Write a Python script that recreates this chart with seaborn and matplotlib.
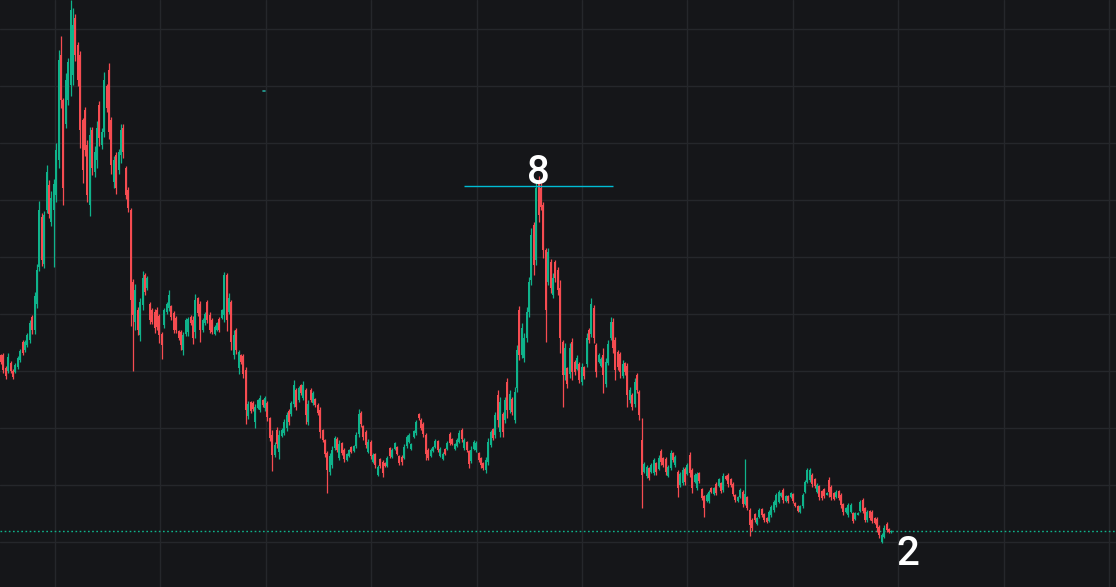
import numpy as np
import pandas as pd
import matplotlib
matplotlib.use("Agg")
import matplotlib.pyplot as plt
import seaborn as sns

# OHLC values (price units, one candle per session)
opens = [
    245, 245, 232, 229, 237, 229, 228, 233, 240, 258, 250, 255, 260, 283, 270, 296, 333, 383, 336, 390,
    415, 378, 390, 405, 440, 545, 500, 476, 500, 515, 525, 582, 555, 545, 480, 490, 455, 395, 470, 428,
    440, 495, 455, 468, 514, 530, 480, 418, 445, 430, 445, 472, 432, 410, 390, 318, 278, 290, 265, 295,
    325, 312, 296, 290, 288, 290, 284, 266, 275, 288, 292, 294, 287, 282, 269, 268, 250, 266, 268, 283,
    280, 268, 302, 296, 270, 277, 298, 285, 280, 266, 270, 281, 282, 285, 325, 288, 298, 245, 270, 232,
    245, 244, 230, 184, 198, 197, 178, 192, 190, 200, 192, 197, 182, 165, 145, 170, 148, 164, 167, 172,
    189, 186, 196, 210, 200, 215, 202, 210, 178, 210, 197, 201, 195, 190, 170, 160, 147, 128, 135, 152,
    161, 142, 157, 150, 140, 144, 153, 149, 154, 166, 187, 174, 168, 148, 158, 138, 146, 125, 141, 138,
    137, 134, 152, 143, 151, 153, 144, 143, 142, 154, 158, 151, 163, 167, 186, 180, 176, 165, 150, 144,
    149, 153, 159, 144, 141, 151, 151, 166, 161, 151, 154, 158, 170, 152, 158, 149, 139, 151, 150, 147,
    142, 137, 130, 138, 155, 171, 165, 205, 168, 186, 180, 218, 190, 201, 180, 212, 290, 245, 242, 262,
    288, 320, 375, 340, 418, 412, 395, 350, 318, 338, 305, 338, 330, 312, 258, 225, 232, 226, 258, 238,
    231, 236, 218, 233, 236, 270, 266, 292, 255, 238, 234, 245, 216, 237, 262, 278, 260, 248, 246, 224,
    237, 234, 200, 205, 196, 225, 208, 160, 128, 124, 132, 128, 127, 137, 131, 149, 142, 141, 124, 132,
    147, 135, 128, 115, 117, 131, 126, 145, 130, 118, 112, 127, 111, 104, 99, 99, 112, 106, 116, 114,
    117, 110, 124, 125, 121, 116, 105, 99, 103, 108, 96, 103, 90, 80, 86, 76, 83, 91, 86, 82,
    79, 85, 90, 95, 98, 104, 110, 99, 104, 103, 106, 97, 94, 88, 94, 108, 118, 120, 125, 121,
    108, 114, 109, 111, 105, 120, 113, 107, 103, 109, 105, 96, 88, 85, 88, 87, 81, 85, 89, 100,
    92, 80, 89, 88, 82, 81, 73, 58, 63, 76, 71, 68,
]
highs = [
    246, 247, 234, 247, 239, 231, 237, 244, 251, 260, 260, 267, 280, 285, 308, 336, 399, 387, 389, 435,
    420, 409, 421, 457, 550, 564, 502, 527, 542, 600, 592, 586, 558, 549, 482, 493, 460, 473, 473, 454,
    479, 499, 472, 528, 516, 537, 483, 444, 448, 451, 476, 476, 434, 413, 392, 321, 316, 293, 302, 329,
    327, 324, 298, 292, 291, 293, 286, 268, 292, 298, 310, 295, 289, 284, 270, 270, 268, 282, 283, 285,
    284, 306, 303, 299, 282, 288, 300, 288, 282, 275, 278, 283, 291, 328, 327, 307, 300, 270, 272, 250,
    246, 246, 233, 199, 199, 199, 196, 201, 205, 201, 204, 199, 183, 170, 158, 173, 170, 172, 181, 188,
    191, 199, 220, 212, 214, 216, 219, 212, 200, 212, 209, 202, 197, 193, 171, 161, 149, 147, 154, 164,
    163, 160, 158, 152, 147, 151, 154, 155, 168, 191, 189, 175, 170, 161, 160, 147, 147, 135, 142, 140,
    138, 144, 153, 152, 158, 154, 145, 145, 156, 165, 167, 157, 170, 180, 187, 182, 178, 167, 152, 152,
    154, 161, 160, 153, 148, 152, 159, 168, 162, 157, 162, 170, 172, 162, 159, 150, 154, 160, 159, 148,
    143, 138, 143, 162, 170, 172, 188, 210, 203, 188, 203, 222, 210, 203, 213, 255, 294, 277, 267, 293,
    323, 372, 378, 418, 424, 417, 398, 352, 352, 341, 327, 340, 333, 320, 260, 257, 233, 257, 262, 240,
    245, 238, 237, 234, 267, 272, 302, 295, 257, 247, 243, 252, 242, 260, 283, 282, 263, 250, 248, 240,
    238, 237, 213, 207, 222, 227, 210, 182, 138, 135, 133, 137, 142, 138, 145, 151, 143, 143, 135, 150,
    148, 145, 130, 128, 133, 133, 137, 148, 132, 127, 128, 128, 112, 105, 107, 110, 113, 113, 118, 122,
    118, 127, 125, 127, 122, 118, 106, 104, 112, 110, 141, 104, 92, 82, 87, 83, 92, 92, 87, 83,
    90, 95, 100, 107, 110, 108, 112, 105, 105, 108, 107, 98, 95, 95, 107, 120, 132, 132, 127, 122,
    117, 115, 110, 112, 108, 123, 115, 108, 110, 110, 107, 97, 93, 97, 97, 88, 88, 88, 100, 102,
    93, 90, 90, 90, 83, 83, 75, 67, 75, 78, 72, 70,
]
lows = [
    236, 227, 221, 227, 227, 221, 227, 231, 238, 245, 248, 253, 257, 266, 266, 292, 329, 334, 332, 387,
    382, 374, 333, 398, 432, 492, 395, 472, 495, 504, 515, 539, 514, 452, 417, 444, 398, 384, 425, 423,
    432, 454, 451, 463, 488, 461, 426, 412, 406, 426, 437, 442, 401, 388, 274, 229, 270, 265, 259, 290,
    305, 310, 276, 276, 267, 270, 257, 241, 272, 286, 289, 280, 267, 267, 260, 250, 245, 264, 264, 275,
    256, 262, 284, 258, 268, 275, 277, 267, 266, 265, 269, 268, 281, 278, 269, 286, 250, 241, 246, 226,
    236, 222, 176, 181, 187, 189, 172, 191, 188, 193, 189, 179, 159, 129, 143, 152, 141, 163, 165, 169,
    175, 184, 193, 190, 198, 205, 200, 176, 175, 198, 195, 193, 185, 162, 158, 143, 107, 125, 132, 150,
    148, 140, 145, 138, 139, 143, 147, 148, 152, 163, 173, 160, 152, 147, 141, 137, 132, 124, 132, 123,
    133, 133, 142, 142, 150, 145, 135, 135, 141, 152, 157, 150, 162, 165, 180, 170, 163, 140, 140, 143,
    148, 152, 148, 143, 140, 145, 150, 155, 155, 150, 153, 157, 158, 150, 148, 132, 137, 150, 148, 138,
    132, 130, 127, 135, 153, 160, 162, 173, 163, 163, 177, 182, 187, 185, 177, 208, 240, 242, 238, 258,
    283, 315, 325, 335, 378, 390, 342, 258, 315, 307, 302, 318, 305, 247, 193, 220, 212, 222, 220, 225,
    230, 217, 215, 221, 233, 257, 263, 257, 223, 237, 233, 207, 213, 235, 260, 247, 220, 230, 222, 222,
    225, 193, 197, 190, 193, 207, 180, 92, 127, 122, 120, 127, 125, 125, 130, 135, 133, 125, 123, 130,
    138, 133, 103, 113, 115, 115, 125, 123, 107, 117, 110, 117, 100, 83, 98, 97, 107, 105, 105, 113,
    107, 108, 120, 113, 113, 104, 98, 98, 102, 93, 95, 90, 64, 69, 78, 75, 82, 83, 78, 77,
    78, 83, 88, 93, 97, 103, 97, 98, 97, 102, 97, 93, 88, 87, 92, 107, 117, 118, 113, 112,
    107, 100, 100, 102, 105, 103, 100, 100, 102, 100, 92, 85, 87, 83, 87, 77, 80, 85, 88, 87,
    78, 78, 80, 77, 76, 68, 62, 57, 62, 68, 67, 67,
]
closes = [
    238, 230, 224, 243, 229, 223, 235, 242, 249, 247, 258, 265, 277, 270, 304, 330, 390, 340, 385, 428,
    386, 402, 416, 450, 540, 500, 412, 520, 538, 590, 575, 545, 520, 470, 430, 450, 405, 465, 432, 448,
    472, 462, 468, 520, 492, 468, 435, 440, 412, 448, 470, 448, 405, 392, 300, 285, 310, 270, 298, 322,
    308, 322, 280, 278, 272, 273, 265, 255, 290, 296, 305, 283, 270, 270, 262, 255, 265, 280, 281, 277,
    262, 300, 287, 270, 280, 286, 280, 270, 268, 273, 277, 270, 290, 325, 280, 302, 258, 265, 250, 248,
    238, 226, 190, 196, 189, 191, 193, 200, 202, 195, 202, 183, 162, 145, 155, 156, 165, 170, 178, 185,
    178, 197, 215, 193, 212, 207, 215, 185, 196, 200, 207, 195, 187, 168, 160, 146, 130, 144, 150, 162,
    150, 156, 147, 141, 146, 150, 148, 154, 165, 186, 176, 163, 155, 158, 144, 145, 135, 133, 134, 127,
    134, 142, 144, 150, 157, 146, 137, 138, 153, 163, 165, 156, 169, 178, 182, 172, 166, 146, 142, 150,
    153, 159, 150, 151, 146, 146, 157, 157, 156, 156, 160, 167, 161, 160, 150, 136, 150, 158, 157, 140,
    135, 132, 140, 158, 168, 162, 185, 180, 198, 168, 200, 190, 206, 188, 208, 250, 245, 272, 262, 288,
    318, 365, 335, 412, 385, 393, 350, 290, 348, 312, 322, 322, 310, 262, 225, 252, 216, 252, 228, 228,
    242, 220, 233, 224, 262, 260, 296, 262, 228, 245, 241, 225, 238, 256, 278, 252, 230, 233, 228, 236,
    228, 205, 210, 193, 218, 210, 185, 125, 136, 133, 122, 135, 140, 128, 142, 138, 135, 128, 133, 147,
    140, 143, 112, 126, 130, 118, 135, 127, 112, 125, 126, 119, 102, 92, 105, 108, 108, 112, 107, 121,
    109, 124, 121, 116, 115, 106, 100, 103, 110, 96, 106, 92, 75, 72, 80, 82, 90, 85, 80, 78,
    88, 93, 98, 105, 108, 107, 100, 104, 99, 107, 99, 94, 89, 94, 105, 118, 130, 130, 116, 114,
    115, 103, 102, 104, 107, 108, 103, 101, 108, 102, 95, 88, 92, 95, 95, 79, 87, 87, 98, 89,
    80, 88, 82, 79, 77, 72, 65, 65, 72, 70, 68, 69,
]

# annotations drawn on the chart
peak_label = "8"
peak_idx = 224        # candle the level line is drawn over
peak_level = 414
last_label = "2"
marker_idx = 109.6
marker_price = 509

assert len(opens) == len(highs) == len(lows) == len(closes)

df = pd.DataFrame({"open": opens, "high": highs, "low": lows, "close": closes})
df["idx"] = np.arange(len(df))
df["up"] = df["close"] >= df["open"]

bg = "#151619"
grid_col = "#25272b"
up_col = "#0fb38b"
down_col = "#f64c51"
label_font = dict(color="white", fontsize=29, family=["Roboto", "Noto Sans"],
                  fontweight="medium", zorder=5)

sns.set_theme(style="dark", rc={"axes.facecolor": bg, "figure.facecolor": bg})

fig = plt.figure(figsize=(11.16, 5.87), dpi=100)
ax = fig.add_axes([0, 0, 1, 1])

colors = np.where(df["up"], up_col, down_col)

# wicks and bodies
ax.vlines(df["idx"], df["low"], df["high"], colors=colors, linewidth=0.9, zorder=3)
body_lo = df[["open", "close"]].min(axis=1)
body_h = (df["close"] - df["open"]).abs().clip(lower=1.5)
ax.bar(df["idx"], body_h, bottom=body_lo, width=0.8, color=colors, linewidth=0, zorder=3)

# last price line
ax.axhline(df["close"].iloc[-1], color=up_col, lw=1.0, ls=(0, (1.2, 1.8)), zorder=2)

# level line over the second peak
ax.hlines(peak_level, peak_idx - 31, peak_idx + 31, color="#00bcd4", lw=1, zorder=4)
ax.text(peak_idx, peak_level + 2, peak_label, ha="center", va="baseline", **label_font)

last_i = df["idx"].iloc[-1]
ax.text(last_i + 6.7, 35, last_label, ha="center", va="baseline", **label_font)

ax.plot([marker_idx - 0.5, marker_idx + 0.5], [marker_price, marker_price],
        color="#26a69a", lw=1.2, zorder=4)

ax.set_xlim(-0.42, 464.6)
ax.set_ylim(13, 600)
ax.set_xticks(np.arange(22.5, 465, 43.92))
ax.set_yticks(np.arange(58, 600, 57))
ax.grid(True, color=grid_col, lw=1)
ax.set_axisbelow(True)
ax.tick_params(length=0, labelbottom=False, labelleft=False)
for s in ax.spines.values():
    s.set_visible(False)

fig.savefig("out.png", dpi=100, facecolor=bg)
